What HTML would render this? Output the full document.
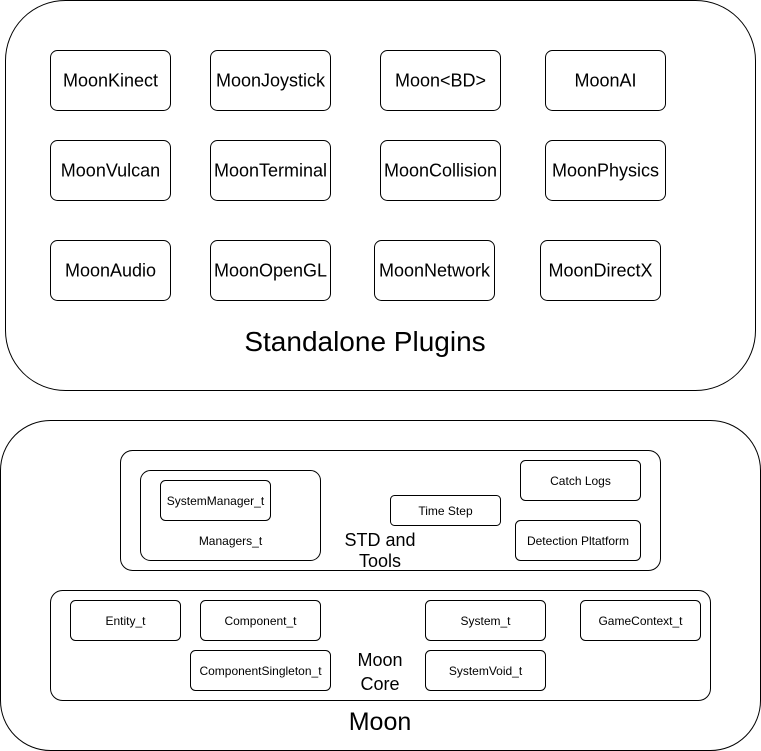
<!DOCTYPE html>
<html><head><meta charset="utf-8"><style>
html,body{margin:0;padding:0;background:#fff;}
svg{display:block;}
text{font-family:"Liberation Sans",Helvetica,Arial,sans-serif;fill:#000;}
</style></head><body>
<svg width="761" height="751" viewBox="0 0 761 751" xmlns="http://www.w3.org/2000/svg">
<g fill="#fff" stroke="#000" stroke-width="1">
<rect x="5.5" y="0.5" width="750" height="390" rx="60"/>
<rect x="50.5" y="50.5" width="120" height="60" rx="7"/>
<rect x="210.5" y="50.5" width="120" height="60" rx="7"/>
<rect x="380.5" y="50.5" width="120" height="60" rx="7"/>
<rect x="545.5" y="50.5" width="120" height="60" rx="7"/>
<rect x="50.5" y="140.5" width="120" height="60" rx="7"/>
<rect x="210.5" y="140.5" width="120" height="60" rx="7"/>
<rect x="380.5" y="140.5" width="120" height="60" rx="7"/>
<rect x="545.5" y="140.5" width="120" height="60" rx="7"/>
<rect x="50.5" y="240.5" width="120" height="60" rx="7"/>
<rect x="210.5" y="240.5" width="120" height="60" rx="7"/>
<rect x="374.5" y="240.5" width="120" height="60" rx="7"/>
<rect x="540.5" y="240.5" width="120" height="60" rx="7"/>

<rect x="0.5" y="420.5" width="760" height="330" rx="50"/>
<rect x="120.5" y="450.5" width="540" height="120" rx="12"/>
<rect x="140.5" y="470.5" width="180" height="90" rx="10"/>
<rect x="160.5" y="480.5" width="110" height="40" rx="5"/>
<rect x="390.5" y="495.5" width="110" height="30" rx="4"/>
<rect x="520.5" y="460.5" width="120" height="40" rx="5"/>
<rect x="515.5" y="520.5" width="125" height="40" rx="5"/>
<rect x="50.5" y="590.5" width="660" height="110" rx="12"/>
<rect x="70.5" y="600.5" width="110" height="40" rx="5"/>
<rect x="200.5" y="600.5" width="120" height="40" rx="5"/>
<rect x="425.5" y="600.5" width="120" height="40" rx="5"/>
<rect x="580.5" y="600.5" width="120" height="40" rx="5"/>
<rect x="190.5" y="650.5" width="140" height="40" rx="5"/>
<rect x="425.5" y="650.5" width="120" height="40" rx="5"/>
</g>
<g font-size="18" text-anchor="middle">
<text x="110.5" y="86.5">MoonKinect</text>
<text x="270.5" y="86.5">MoonJoystick</text>
<text x="440.5" y="86.5">Moon&lt;BD&gt;</text>
<text x="605.5" y="86.5">MoonAI</text>
<text x="110.5" y="176.5">MoonVulcan</text>
<text x="270.5" y="176.5">MoonTerminal</text>
<text x="440.5" y="176.5">MoonCollision</text>
<text x="605.5" y="176.5">MoonPhysics</text>
<text x="110.5" y="276.5">MoonAudio</text>
<text x="270.5" y="276.5">MoonOpenGL</text>
<text x="434.5" y="276.5">MoonNetwork</text>
<text x="600.5" y="276.5">MoonDirectX</text>
<text x="380" y="546">STD and</text>
<text x="380" y="567">Tools</text>
<text x="380" y="666">Moon</text>
<text x="380" y="690">Core</text>
</g>
<text x="365" y="351" font-size="28" text-anchor="middle">Standalone Plugins</text>
<text x="380" y="730" font-size="25" text-anchor="middle">Moon</text>
<g font-size="12" text-anchor="middle">
<text x="215.5" y="505">SystemManager_t</text>
<text x="230.5" y="545">Managers_t</text>
<text x="445.5" y="515">Time Step</text>
<text x="580.5" y="485">Catch Logs</text>
<text x="578" y="545">Detection Pltatform</text>
<text x="125.5" y="625">Entity_t</text>
<text x="260.5" y="625">Component_t</text>
<text x="485.5" y="625">System_t</text>
<text x="640.5" y="625">GameContext_t</text>
<text x="260.5" y="675">ComponentSingleton_t</text>
<text x="485.5" y="675">SystemVoid_t</text>
</g>
</svg>
</body></html>
